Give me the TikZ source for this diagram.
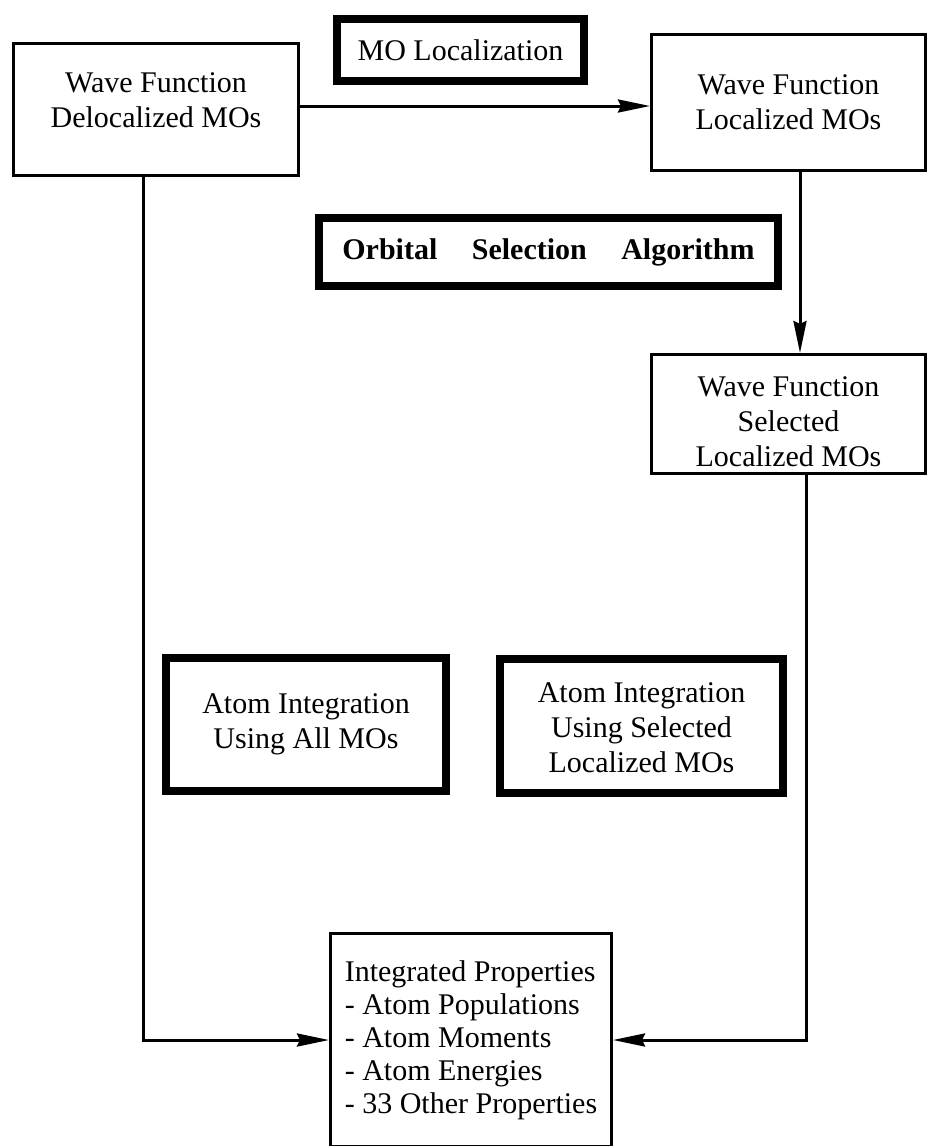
\documentclass[tikz,border=0pt]{standalone}
\usepackage{fontspec}
\setmainfont{Liberation Serif}
\usetikzlibrary{arrows.meta}

\begin{document}
\begin{tikzpicture}[x=0.5pt, y=-0.5pt,
	font=\fontsize{15}{17.5}\selectfont,
	thinbox/.style={draw, line width=1.5pt, align=center, inner sep=0pt},
	thickbox/.style={draw, line width=4pt, align=center, inner sep=0pt},
	arr/.style={line width=1.5pt, -{Stealth[length=16pt, width=6.5pt, inset=1.5pt]}}]
		%%%%% START %%%%%
		
		\useasboundingbox (0, 0) rectangle (930, 1146);
		
		\node[thinbox, minimum width=142.5pt, minimum height=66pt] (wfdeloc) at (156, 109.5) {Wave Function\\Delocalized MOs\\[-8pt]\mbox{}};
		\node[thickbox, minimum width=123.5pt, minimum height=31pt] (moloc) at (460.5, 50) {MO Localization};
		\node[thinbox, minimum width=137pt, minimum height=68pt] (wfloc) at (788.5, 102.5) {Wave Function\\Localized MOs};
		
		\node[thickbox, minimum width=229.5pt, minimum height=34pt] (orbsel) at (548.5, 252) {\textbf{Orbital\hspace{1.15em}Selection\hspace{1.15em}Algorithm}};
		\node[thinbox, minimum width=137pt, minimum height=59.5pt] (wfsel) at (788.5, 414) {\mbox{}\\[0pt]Wave Function\\Selected\\Localized MOs};
		
		\node[thickbox, minimum width=140pt, minimum height=66.5pt] (intall) at (306, 724.5) {Atom Integration\\Using All MOs};
		\node[thickbox, minimum width=141.5pt, minimum height=67pt] (intsel) at (641.5, 726) {\mbox{}\\[-6pt]Atom Integration\\Using Selected\\Localized MOs};
		
		\node[thinbox, align=left, minimum width=140.5pt, minimum height=106.5pt, font=\fontsize{15}{16.5}\selectfont] (props) at (471, 1040) {Integrated Properties\\- Atom Populations\\- Atom Moments\\- Atom Energies\\- 33 Other Properties};
		
		\draw[arr] ([yshift=1.75pt]wfdeloc.east) -- ([yshift=1.75pt]wfdeloc.east -| wfloc.west);
		\draw[arr] ([xshift=5.75pt]wfloc.south) -- ([xshift=5.75pt]wfsel.north);
		\draw[arr] ([xshift=-6.5pt]wfdeloc.south) |- (props.west);
		\draw[arr] ([xshift=8.75pt]wfsel.south) |- (props.east);
		
		%%%%% END %%%%%
\end{tikzpicture}
\end{document}
